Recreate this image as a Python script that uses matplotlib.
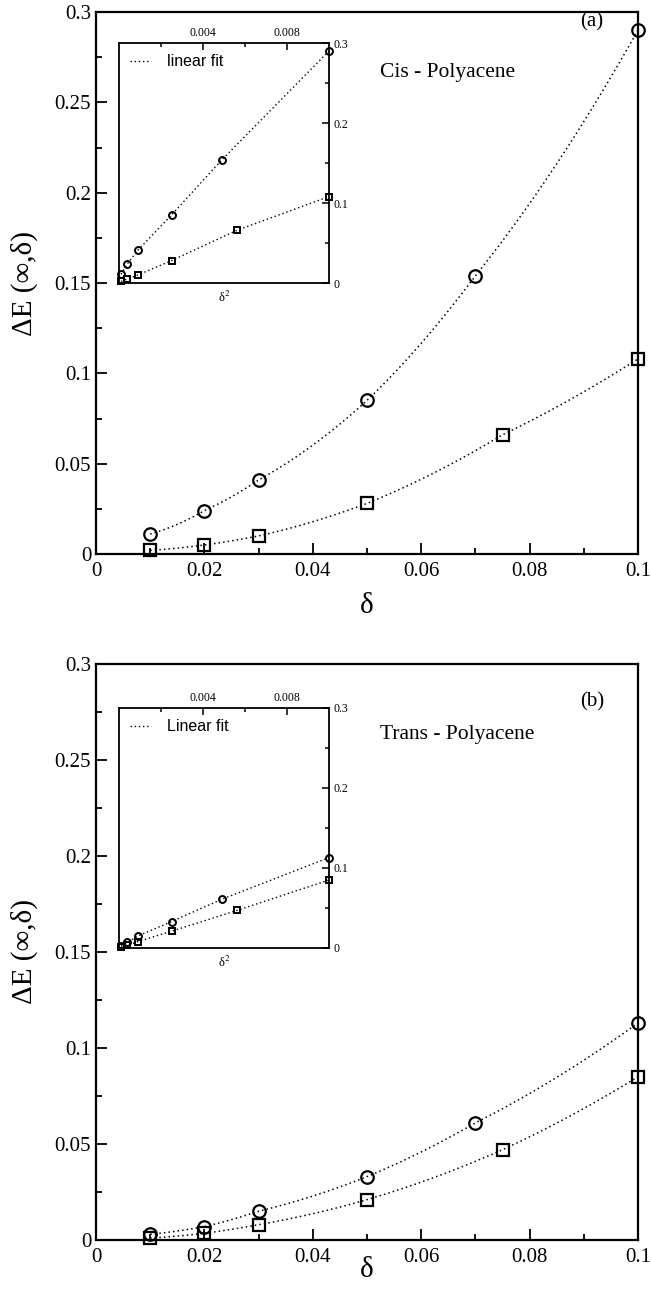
import numpy as np
import matplotlib
matplotlib.use("Agg")
import matplotlib.pyplot as plt
from matplotlib.ticker import MultipleLocator, FixedLocator
from matplotlib.lines import Line2D

# ---- data ----
delta_circ = [0.01, 0.02, 0.03, 0.05, 0.07, 0.10]
delta_sq = [0.01, 0.02, 0.03, 0.05, 0.075, 0.10]
cis_circ = [0.011, 0.024, 0.041, 0.085, 0.154, 0.290]
cis_sq = [0.002, 0.005, 0.010, 0.028, 0.066, 0.108]
trans_circ = [0.003, 0.007, 0.015, 0.033, 0.061, 0.113]
trans_sq = [0.001, 0.0035, 0.008, 0.021, 0.047, 0.085]

xticks_main = [0, 0.02, 0.04, 0.06, 0.08, 0.1]
xticklabels_main = ["0", "0.02", "0.04", "0.06", "0.08", "0.1"]
yticks_main = [0, 0.05, 0.1, 0.15, 0.2, 0.25, 0.3]
yticklabels_main = ["0", "0.05", "0.1", "0.15", "0.2", "0.25", "0.3"]
xticks_ins = [0.004, 0.008]
xticklabels_ins = ["0.004", "0.008"]
yticks_ins = [0, 0.1, 0.2, 0.3]
yticklabels_ins = ["0", "0.1", "0.2", "0.3"]

panels = [
    dict(circ=cis_circ, sq=cis_sq, name="Cis - Polyacene", tag="(a)", fit="linear fit"),
    dict(circ=trans_circ, sq=trans_sq, name="Trans - Polyacene", tag="(b)", fit="Linear fit"),
]

SERIF = ["Liberation Serif", "DejaVu Serif"]
SANS = ["Liberation Sans", "DejaVu Sans"]
plt.rcParams["font.family"] = SERIF
plt.rcParams["mathtext.fontset"] = "stix"

W, H = 651, 1302
fig = plt.figure(figsize=(W / 100, H / 100), dpi=100)

def fx(px):
    return px / W

def fy(py):
    return 1 - py / H

# layout in pixels: (left, top, right, bottom)
main_boxes = [(96, 12, 638, 554), (96, 664, 638, 1240)]
inset_boxes = [(119, 43, 329, 283), (119, 708, 329, 948)]
xlabel_y = [606, 1270]
dotted = (0, (1, 2))

def curve(xs, ys):
    xs = np.asarray(xs)
    ys = np.asarray(ys)
    d = np.linspace(xs[0], xs[-1], 300)
    return d, np.interp(d ** 2, xs ** 2, ys)

for i, p in enumerate(panels):
    l, t, r, b = main_boxes[i]
    ax = fig.add_axes([fx(l), fy(b), fx(r - l), (b - t) / H])
    for xs, ys, m, ms in [(delta_circ, p["circ"], "o", 9), (delta_sq, p["sq"], "s", 8)]:
        cx, cy = curve(xs, ys)
        ax.plot(cx, cy, color="black", lw=1.1, ls=dotted)
        ax.plot(xs, ys, ls="none", marker=m, ms=ms, mfc="none", mec="black", mew=1.6,
                clip_on=False, zorder=3)
    ax.set_xlim(0, 0.1)
    ax.set_ylim(0, 0.3)
    ax.set_xticks(xticks_main)
    ax.set_xticklabels(xticklabels_main)
    ax.set_yticks(yticks_main)
    ax.set_yticklabels(yticklabels_main)
    ax.xaxis.set_minor_locator(MultipleLocator(0.01))
    ax.yaxis.set_minor_locator(MultipleLocator(0.025))
    ax.tick_params(which="both", direction="in", top=False, right=False, labelsize=15,
                   width=1.3)
    ax.tick_params(which="major", length=8)
    ax.tick_params(which="minor", length=4)
    ax.tick_params(axis="x", pad=6)
    for s in ax.spines.values():
        s.set_linewidth(1.6)
    ax.set_xlabel("δ", fontsize=21)
    ax.xaxis.set_label_coords(0.5, -(xlabel_y[i] - b) / (b - t), transform=ax.transAxes)
    ax.xaxis.label.set_va("center")
    ax.set_ylabel("ΔE (∞,δ)", fontsize=21)
    ax.yaxis.set_label_coords(-(l - 24) / (r - l), 0.5, transform=ax.transAxes)
    ax.yaxis.label.set_va("center")
    fig.text(fx(380), fy(72 if i == 0 else 734), p["name"], fontsize=15.5, va="center", ha="left")
    fig.text(fx(580), fy(22 if i == 0 else 702), p["tag"], fontsize=15, va="center", ha="left")

    # inset
    l, t, r, b = inset_boxes[i]
    ia = fig.add_axes([fx(l), fy(b), fx(r - l), (b - t) / H])
    for xs, ys, m in [(delta_circ, p["circ"], "o"), (delta_sq, p["sq"], "s")]:
        x2 = np.asarray(xs) ** 2
        ia.plot(x2, ys, color="black", lw=1.0, ls=dotted)
        ia.plot(x2, ys, ls="none", marker=m, ms=5, mfc="none", mec="black", mew=1.4,
                clip_on=False, zorder=3)
    ia.set_xlim(0, 0.01)
    ia.set_ylim(0, 0.3)
    ia.xaxis.tick_top()
    ia.yaxis.tick_right()
    ia.set_xticks(xticks_ins)
    ia.set_xticklabels(xticklabels_ins)
    ia.set_yticks(yticks_ins)
    ia.set_yticklabels(yticklabels_ins)
    ia.xaxis.set_minor_locator(FixedLocator([0.002, 0.006]))
    ia.yaxis.set_minor_locator(FixedLocator([0.05, 0.15, 0.25]))
    ia.tick_params(which="both", direction="in", labelsize=8.5, width=1.1,
                   top=True, bottom=False, right=True, left=False, pad=3)
    ia.tick_params(which="major", length=5)
    ia.tick_params(which="minor", length=3)
    for s in ia.spines.values():
        s.set_linewidth(1.3)
    ia.set_xlabel("δ$^2$", fontsize=9, labelpad=5)
    h = Line2D([], [], color="black", lw=1.0, ls=dotted)
    leg = ia.legend([h], [p["fit"]], loc="upper left", frameon=False,
                    prop=dict(family=SANS, size=11.5), handlelength=1.3,
                    borderaxespad=0.3, handletextpad=1.0)

fig.savefig("out.png", dpi=100)
